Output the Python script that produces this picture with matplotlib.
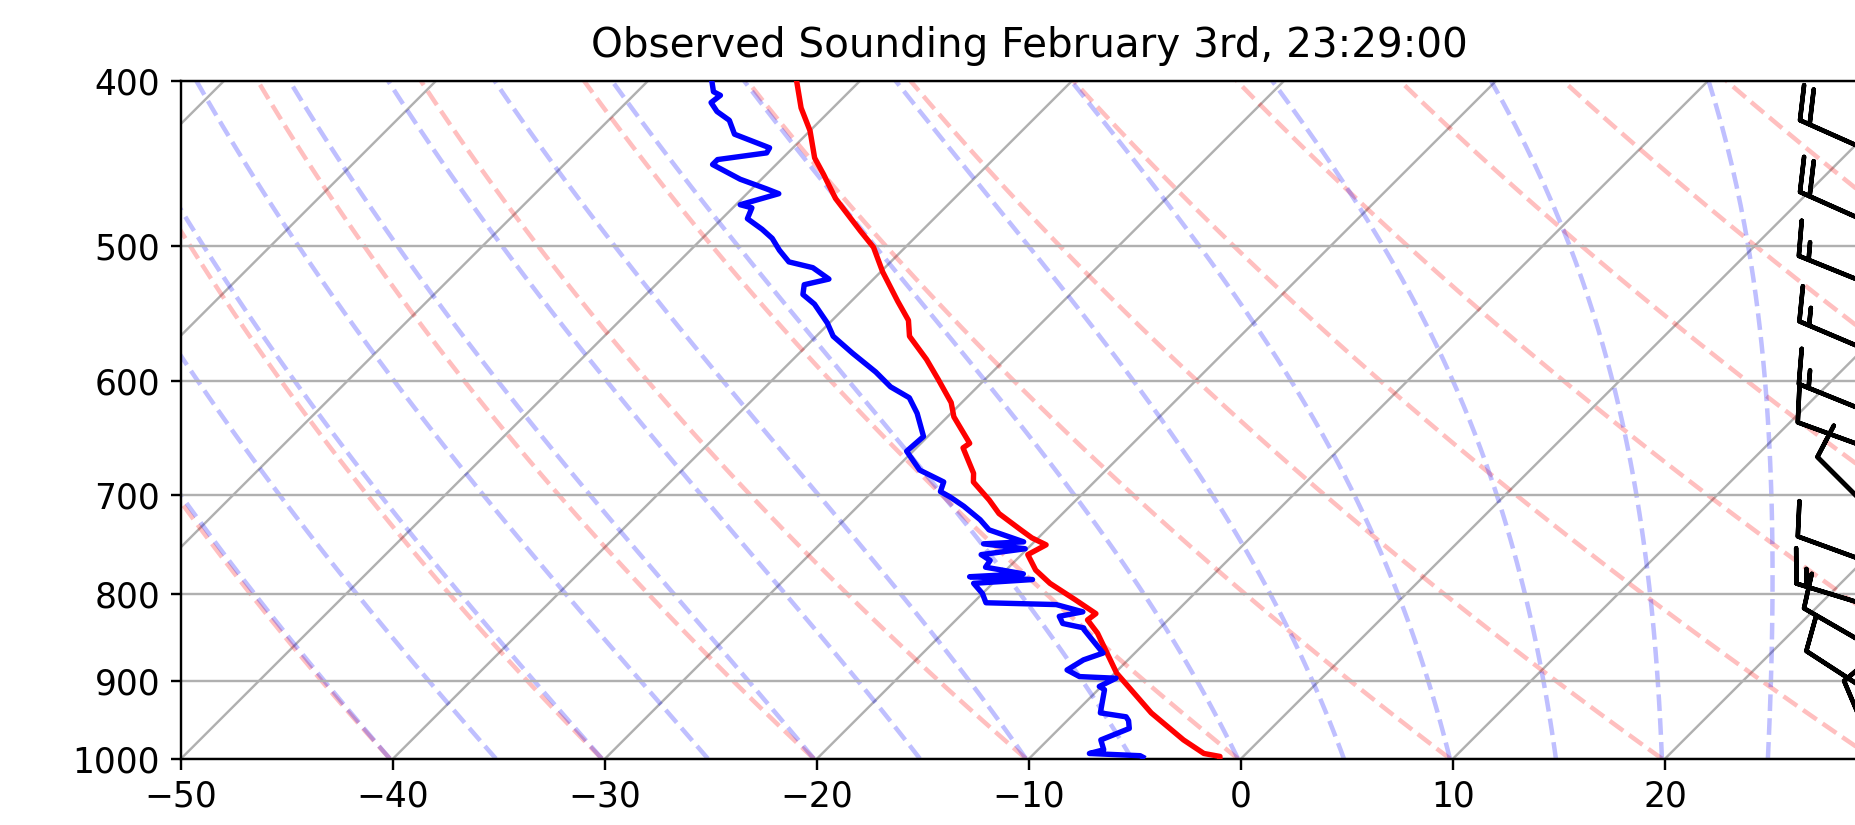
import numpy as np
import matplotlib
matplotlib.use("Agg")
import matplotlib.pyplot as plt
from matplotlib.collections import LineCollection
from matplotlib.transforms import Affine2D
from matplotlib.ticker import MultipleLocator, ScalarFormatter, NullLocator, FixedLocator

# sonde temperature (hPa, degC)
p_temp = [1000, 997, 993, 975, 940, 891, 844, 829, 822, 807, 789, 775, 759, 749, 742,
          734, 718, 705, 688, 680, 657, 653, 630, 618, 599, 583, 565, 553, 539, 518,
          501, 490, 479, 469, 454, 444, 428, 415, 400]
temp = [-1.0, -1.1, -2.0, -3.6, -6.4, -9.9, -12.7, -13.8, -13.7, -15.3, -17.3, -18.6, -19.7, -19.3, -20.3,
        -21.2, -23.0, -24.1, -25.7, -26.1, -27.8, -27.7, -29.7, -30.5, -32.2, -33.7, -35.6, -36.4, -37.8, -39.9,
        -41.5, -42.9, -44.3, -45.6, -47.3, -48.5, -50.0, -51.5, -53.0]

# dewpoint
p_dew = [998, 996, 993, 988, 975, 960, 950, 945, 940, 911, 907, 897, 895, 887, 875,
         867, 840, 838, 833, 825, 820, 812, 810, 800, 789, 785, 782, 779, 772, 765,
         759, 753, 748, 746, 734, 724, 711, 702, 697, 688, 677, 660, 647, 627, 614,
         605, 593, 578, 565, 555, 541, 534, 527, 523, 515, 511, 503, 495, 489, 482,
         475, 473, 466, 463, 457, 448, 445, 441, 438, 430, 422, 417, 412, 408, 406, 400]
dewp = [-4.7, -4.9, -7.4, -6.9, -7.5, -6.7, -7.1, -7.4, -8.8, -9.7, -10.1, -9.7, -11.5, -12.4, -12.1,
        -11.5, -13.5, -13.6, -14.8, -15.3, -14.4, -16.0, -19.4, -20.0, -20.9, -18.3, -21.4, -19.0, -21.1, -21.2,
        -21.9, -20.1, -22.3, -20.5, -22.7, -23.6, -25.0, -26.1, -26.8, -27.1, -28.8, -30.3, -30.2, -31.6, -32.7,
        -34.1, -35.5, -37.5, -39.2, -40.1, -41.6, -42.6, -43.0, -42.1, -43.4, -44.8, -45.8, -46.7, -47.6, -48.8,
        -49.1, -49.8, -48.5, -49.3, -51.0, -53.0, -53.0, -51.0, -51.1, -53.4, -54.3, -55.3, -56.0, -55.9, -56.4, -57.0]

# wind barbs
p_wind = [442, 487, 529, 579, 629, 660, 721, 770, 816, 864, 920, 1000]
wdir = [294, 294, 292, 293, 292, 290, 315, 290, 287, 300, 303, 337]
wspd = [20, 20, 15, 15, 15, 10, 10, 10, 15, 10, 10, 10]

# background lines
isotherms = np.arange(-100, 40, 10)
dry_t0 = np.arange(233, 533, 10)    # K
moist_t0 = np.arange(233, 400, 5)   # K
xticks = np.arange(-50, 30, 10)

SKEW = 80.5  # degC shift per decade of pressure

def dry_lapse(p, t0):
    return t0 * (p / 1000.0) ** 0.28571 - 273.15

def moist_lapse(p, t0):
    # integrate dT/dp from 1000 hPa with small RK4 steps
    Rd, cp, Lv, eps = 287.04749, 1004.6662, 2.50084e6, 0.621957

    def f(pr, tk):
        tc = tk - 273.15
        es = 6.112 * np.exp(17.67 * tc / (tc + 243.5))
        rs = eps * es / (pr - es)
        return (Rd * tk + Lv * rs) / (cp + Lv ** 2 * rs * eps / (Rd * tk ** 2)) / pr

    out = [t0]
    t = t0
    for i in range(1, len(p)):
        n = 10
        dp = (p[i] - p[i - 1]) / n
        pp = p[i - 1]
        for _ in range(n):
            k1 = f(pp, t)
            k2 = f(pp + dp / 2, t + dp * k1 / 2)
            k3 = f(pp + dp / 2, t + dp * k2 / 2)
            k4 = f(pp + dp, t + dp * k3)
            t = t + dp * (k1 + 2 * k2 + 2 * k3 + k4) / 6
            pp += dp
        out.append(t)
    return np.array(out) - 273.15


dpi = 216
fig = plt.figure(figsize=(1855 / dpi, 825 / dpi), dpi=dpi)
ax = fig.add_axes([0.0976, 0.0804, 0.9143, 0.8218])
ax.set_yscale('log')
ax.set_ylim(1000, 400)
ax.set_xlim(-50, 30)
ax.yaxis.set_major_locator(MultipleLocator(100))
ax.yaxis.set_major_formatter(ScalarFormatter())
ax.yaxis.set_minor_locator(NullLocator())
ax.xaxis.set_major_locator(FixedLocator(xticks))
ax.tick_params(labelsize=11.5)
ax.yaxis.grid(True)

skew = (ax.transScale
        + Affine2D(np.array([[1, -SKEW, 3 * SKEW], [0, 1, 0], [0, 0, 1]]))
        + ax.transLimits + ax.transAxes)

plev = np.linspace(1000, 400, 50)

iso = [np.column_stack([[t, t], [1000, 400]]) for t in isotherms]
ax.add_collection(LineCollection(iso, colors='#b0b0b0', linewidths=0.8, transform=skew, zorder=1))

dry = [np.column_stack([dry_lapse(plev, t0), plev]) for t0 in dry_t0]
ax.add_collection(LineCollection(dry, colors='r', linestyles='dashed', alpha=0.25,
                                 linewidths=1.5, transform=skew, zorder=1.5))

moist = [np.column_stack([moist_lapse(plev, t0), plev]) for t0 in moist_t0]
ax.add_collection(LineCollection(moist, colors='b', linestyles='dashed', alpha=0.25,
                                 linewidths=1.5, transform=skew, zorder=1.5))

ax.plot(temp, p_temp, 'r', lw=1.8, transform=skew, zorder=3)
ax.plot(dewp, p_dew, 'b', lw=1.8, transform=skew, zorder=3)

wd = np.deg2rad(wdir)
u = -np.array(wspd) * np.sin(wd)
v = -np.array(wspd) * np.cos(wd)
ax.barbs(np.ones(len(p_wind)), p_wind, u, v, transform=ax.get_yaxis_transform(),
         clip_on=False, length=7.5, linewidth=1.5, zorder=4)

ax.set_title('Observed Sounding February 3rd, 23:29:00', fontsize=13.5, pad=8)

fig.savefig('out.png', dpi=dpi)
